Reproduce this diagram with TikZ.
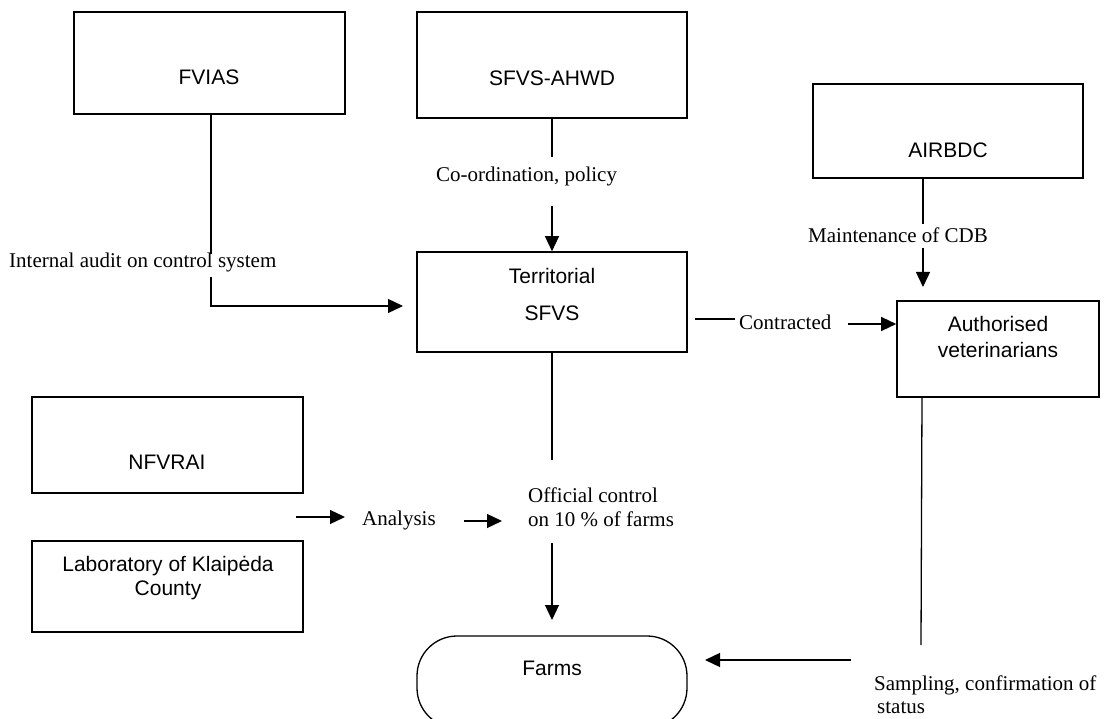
\documentclass[tikz,border=0pt]{standalone}
\usepackage{fontspec}
\setmainfont{Liberation Serif}
\newfontfamily\arialf{Liberation Sans}
\usetikzlibrary{arrows.meta}
\begin{document}
\begin{tikzpicture}[x=1pt,y=-1pt,
  box/.style={draw, line width=1.6pt, inner sep=0pt},
  sans/.style={font=\arialf\fontsize{21}{24}\selectfont, inner sep=0pt, anchor=base},
  serif/.style={font=\fontsize{21}{24}\selectfont, inner sep=0pt, anchor=base west},
  ln/.style={line width=1.3pt},
  arr/.style={line width=1.3pt, -{Triangle[length=15pt,width=14pt]}}]
\clip (0,0) rectangle (1104,719);
\fill[white] (0,0) rectangle (1104,719);
% boxes
\node[box, minimum width=271pt, minimum height=102pt] (fvias) at (209.5,63) {};
\node[box, minimum width=270pt, minimum height=106pt] (ahwd) at (552,65) {};
\node[box, minimum width=270pt, minimum height=100pt] (terr) at (552,302) {};
\node[box, minimum width=270pt, minimum height=94pt] (airbdc) at (948,131) {};
\node[box, minimum width=202pt, minimum height=96pt] (auth) at (998,349) {};
\node[box, minimum width=271pt, minimum height=96pt] (nfvrai) at (167.5,445) {};
\node[box, minimum width=271pt, minimum height=91pt] (lab) at (167.5,586.5) {};
\node[box, rounded corners=40pt, line width=1.3pt, minimum width=270pt, minimum height=92pt] (farms) at (552,682) {};
% box texts (multi-line nodes: base = baseline of last line)
\node[sans] (fviast) at (209,85) {FVIAS};
\node[sans] (ahwdt) at (552,86) {SFVS-AHWD};
\node[sans, align=center] (terrt) at (552,320.5) {Territorial\\[13pt]SFVS};
\node[sans] (airbdct) at (948,157.5) {AIRBDC};
\node[sans, align=center] (autht) at (998,358) {Authorised\\[2pt]veterinarians};
\node[sans] (nfvrait) at (167,469) {NFVRAI};
\node[sans, align=center] (labt) at (168,595) {Laboratory of Klaipėda\\County};
\node[sans] (farmst) at (552,675) {Farms};
% connector labels
\node[serif] (audit) at (9,268) {Internal audit on control system};
\node[serif] (coord) at (436,182) {Co-ordination, policy};
\node[serif] (maint) at (808,243) {Maintenance of CDB};
\node[serif] (contr) at (739,330) {Contracted};
\node[serif] (anal) at (362,525) {Analysis};
\node[serif, align=left] (offc) at (528,526) {Official control\\on 10 \% of farms};
\node[serif, align=left] (samp) at (874,713) {Sampling, confirmation of\\[-1pt]\hspace*{3pt}status};
% coordinates
\coordinate (a1) at (211,254);
\coordinate (a2) at (211,277);
\coordinate (a3) at (403,306);
\coordinate (b1) at (552,157);
\coordinate (b2) at (552,206);
\coordinate (c1) at (923,224);
\coordinate (c2) at (923,248);
\coordinate (c3) at (923,287);
\coordinate (d0) at (695,319);
\coordinate (d1) at (735,319);
\coordinate (d2) at (848,324);
\coordinate (e1) at (552,460);
\coordinate (e2) at (552,543);
\coordinate (e3) at (552,620);
\coordinate (f1) at (296,517);
\coordinate (f2) at (345,517);
\coordinate (g1) at (464,521);
\coordinate (g2) at (502,521);
\coordinate (h1) at (921,645);
\coordinate (k1) at (851,660);
\coordinate (k2) at (705,660);
% connectors
\draw[ln] (fvias.south -| a1) -- (a1);
\draw[arr] (a2) |- (a3);
\draw[ln] (ahwd) -- (b1);
\draw[arr] (b2) -- (terr);
\draw[ln] (airbdc.south -| c1) -- (c1);
\draw[arr] (c2) -- (c3);
\draw[ln] (d0) -- (d1);
\draw[arr] (d2) -- (auth.west |- d2);
\draw[ln] (terr) -- (e1);
\draw[arr] (e2) -- (e3);
\draw[arr] (f1) -- (f2);
\draw[arr] (g1) -- (g2);
\draw[ln] (auth.south -| 922,0) -- (h1);
\draw[arr] (k1) -- (k2);
\end{tikzpicture}
\end{document}
